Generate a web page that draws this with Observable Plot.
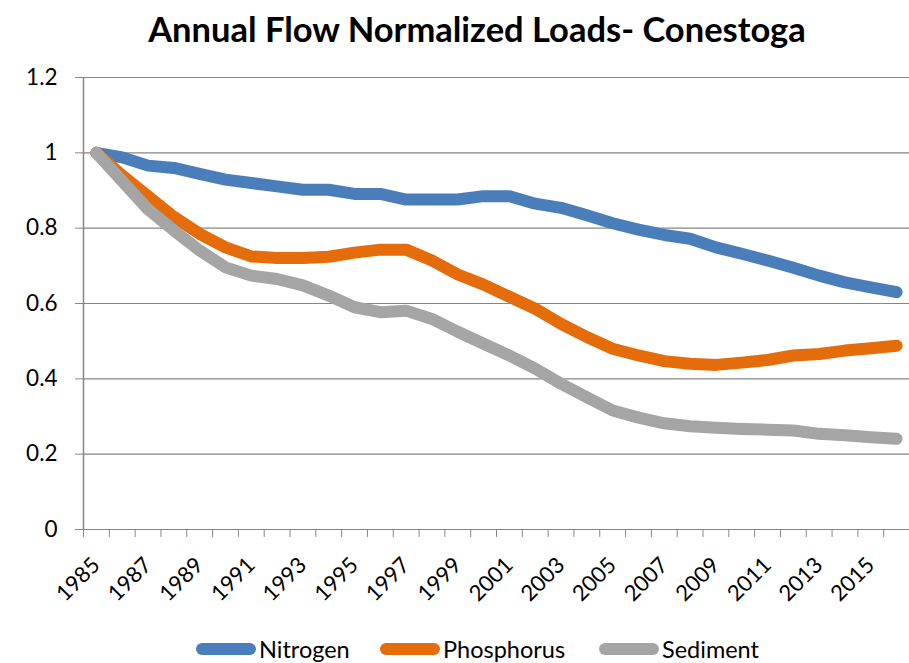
<!DOCTYPE html>
<html>
<head>
<meta charset="utf-8">
<script src="https://cdn.jsdelivr.net/npm/d3@7"></script>
<script src="https://cdn.jsdelivr.net/npm/@observablehq/plot@0.6"></script>
<style>
  html, body { margin: 0; padding: 0; background: #fff; }
  #wrap { position: relative; width: 909px; height: 663px; font-family: Lato, "Open Sans", sans-serif; }
  #title { height: 60px; position: relative; font-weight: 700; font-size: 34.5px; color: #000; }
  #title span { position: absolute; left: 477px; top: 4px; transform: translateX(-50%); white-space: nowrap; line-height: 50px; }
  #legend { position: relative; height: 44px; }
  .item { position: absolute; top: 0; display: flex; align-items: center; height: 44px; font-size: 23.5px; color: #000; }
  .sw { width: 60px; height: 12px; border-radius: 6px; margin-right: 3px; }
</style>
</head>
<body>
<div id="wrap">
  <div id="title"><span>Annual Flow Normalized Loads- Conestoga</span></div>
  <div id="chart"></div>
  <div id="legend"></div>
</div>
<script>
const years = d3.range(1985, 2017);
const nitrogen = [1.0, 0.988, 0.966, 0.960, 0.944, 0.929, 0.920, 0.911, 0.902, 0.902, 0.891, 0.891, 0.876, 0.876, 0.876, 0.885, 0.885, 0.865, 0.854, 0.834, 0.813, 0.796, 0.782, 0.772, 0.749, 0.732, 0.714, 0.695, 0.674, 0.656, 0.643, 0.630];
const phosphorus = [1.0, 0.94, 0.885, 0.83, 0.785, 0.749, 0.725, 0.721, 0.721, 0.724, 0.735, 0.743, 0.743, 0.714, 0.677, 0.650, 0.618, 0.586, 0.546, 0.511, 0.480, 0.462, 0.447, 0.440, 0.437, 0.443, 0.450, 0.462, 0.466, 0.475, 0.481, 0.488];
const sediment = [1.0, 0.925, 0.85, 0.794, 0.741, 0.696, 0.674, 0.665, 0.648, 0.621, 0.590, 0.577, 0.581, 0.559, 0.525, 0.493, 0.462, 0.427, 0.387, 0.351, 0.316, 0.297, 0.282, 0.274, 0.270, 0.267, 0.265, 0.263, 0.254, 0.250, 0.245, 0.241];
const seriesNames = ["Nitrogen", "Phosphorus", "Sediment"];
const seriesColors = ["#4A7EBB", "#E46C0A", "#A5A5A5"];
const yTicks = [0, 0.2, 0.4, 0.6, 0.8, 1, 1.2];
const xLabelYears = years.filter(y => (y - 1985) % 2 === 0 && y <= 2015);

const seriesValues = [nitrogen, phosphorus, sediment];
const data = seriesNames.flatMap((name, i) => years.map((year, j) => ({series: name, year, value: seriesValues[i][j]})));
const boundaries = years.map(y => y - 0.5).concat([years[years.length - 1] + 0.5]);

const gridColor = "#868686";
const chart = Plot.plot({
  width: 909,
  height: 559,
  marginLeft: 83,
  marginRight: 0,
  marginTop: 17,
  marginBottom: 90,
  style: {fontFamily: "Lato, 'Open Sans', sans-serif", color: "#000", background: "#fff"},
  x: {domain: [boundaries[0], boundaries[boundaries.length - 1]]},
  y: {domain: [0, 1.2]},
  color: {domain: seriesNames, range: seriesColors},
  marks: [
    Plot.ruleY(yTicks, {stroke: gridColor, strokeWidth: 1.2}),
    Plot.ruleX([boundaries[0]], {y1: 0, y2: 1.2, stroke: gridColor, strokeWidth: 1.5}),
    Plot.axisY({ticks: yTicks, tickSize: 8, tickPadding: 18, tickFormat: d => String(d), fontSize: 22.5, stroke: gridColor, fill: "#000", label: null}),
    Plot.axisX({ticks: boundaries, tickSize: 8, tickFormat: () => "", stroke: gridColor, label: null}),
    Plot.axisX({ticks: xLabelYears, tickSize: 0, tickPadding: 32, tickRotate: -45, tickFormat: d => String(d), fontSize: 22, fill: "#000", label: null}),
    Plot.line(data, {x: "year", y: "value", z: "series", stroke: "series", strokeWidth: 12, strokeLinecap: "round", strokeLinejoin: "round"})
  ]
});
document.getElementById("chart").appendChild(chart);

const legend = document.getElementById("legend");
const legendLeft = [196, 380, 599];
seriesNames.forEach((name, i) => {
  const it = document.createElement("div");
  it.className = "item";
  it.style.left = legendLeft[i] + "px";
  it.style.top = "8px";
  const sw = document.createElement("span");
  sw.className = "sw";
  sw.style.background = seriesColors[i];
  const tx = document.createElement("span");
  tx.textContent = name;
  it.appendChild(sw);
  it.appendChild(tx);
  legend.appendChild(it);
});
</script>
</body>
</html>
